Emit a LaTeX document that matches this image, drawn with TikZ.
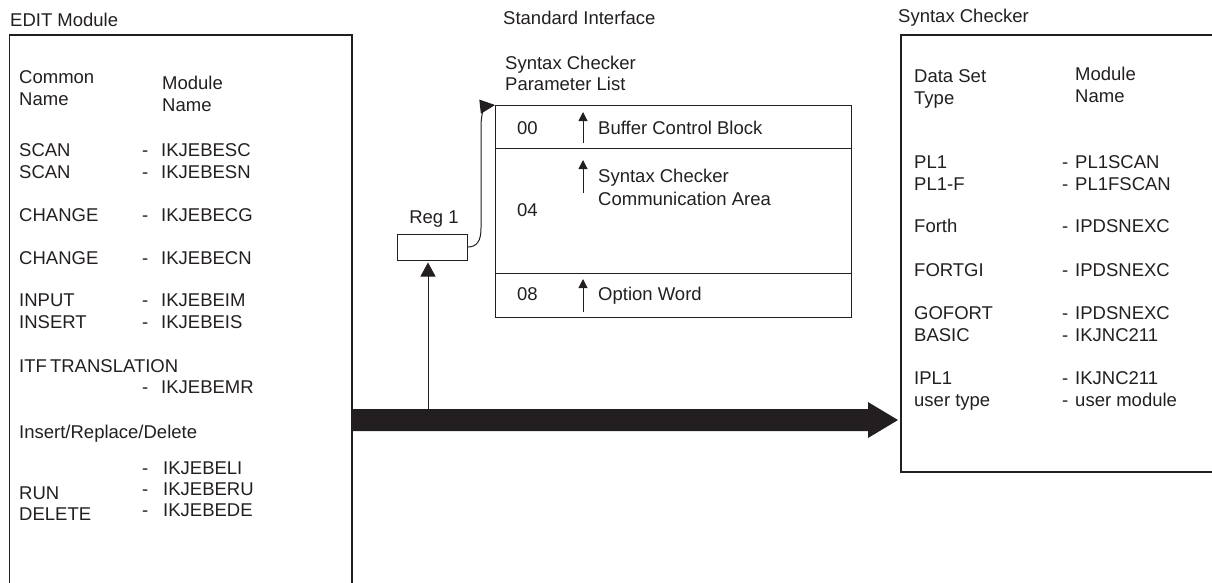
\documentclass[tikz,border=0pt]{standalone}
\usepackage{fontspec}
\setmainfont{Liberation Sans}
\usetikzlibrary{arrows.meta}
\definecolor{ink}{HTML}{231F20}
\begin{document}
\begin{tikzpicture}[x=1pt,y=-1pt,
  txt/.style={anchor=west, inner sep=0pt, text height=13.2pt, text depth=0pt,
              text=ink, font=\fontsize{18.5}{22}\selectfont},
  ctxt/.style={txt, anchor=center},
  frame/.style={draw=ink, line width=1.1pt},
  rule/.style={draw=ink, line width=1pt},
  ptr/.style={draw=ink, line width=1pt, -{Triangle[length=9pt,width=9pt]}},
]
\useasboundingbox (0,0) rectangle (1212,582);

% ---------- EDIT module (frame open at the bottom) ----------
\draw[frame] (9.5,590) -- (9.5,35) -- (352,35) -- (352,590);
\node[txt] (editT) at (10,20) {EDIT Module};
\node[txt] (lh1) at (19,77) {Common};
\node[txt] (lh2) at (19,99) {Name};
\node[txt] (lh3) at (162,83) {Module};
\node[txt] (lh4) at (162,105) {Name};
\foreach \n/\y/\a/\b in {1/150/SCAN/IKJEBESC, 2/172/SCAN/IKJEBESN,
    3/215/CHANGE/IKJEBECG, 4/258/CHANGE/IKJEBECN,
    5/300/INPUT/IKJEBEIM, 6/322/INSERT/IKJEBEIS}{
  \node[txt] (lc\n) at (19,\y) {\a};
  \node[txt] (ld\n) at (142,\y) {-};
  \node[txt] (lm\n) at (161,\y) {\b};
}
\node[txt] (litf) at (19,366) {ITF\hspace{-2pt} TRANSLATION};
\node[txt] (ld7) at (142,387) {-};
\node[txt] (lm7) at (161,387) {IKJEBEMR};
\node[txt] (lird) at (19,432) {Insert/Replace/Delete};
\node[txt] (ld8) at (142,468) {-};
\node[txt] (lm8) at (163,468) {IKJEBELI};
\node[txt] (ld9) at (142,489) {-};
\node[txt] (lm9) at (163,489) {IKJEBERU};
\node[txt] (ld10) at (142,510) {-};
\node[txt] (lm10) at (163,510) {IKJEBEDE};
\node[txt] (lrun) at (19,493) {RUN};
\node[txt] (ldel) at (19,514) {DELETE};

% ---------- standard interface: parameter list ----------
\node[txt] (stdT) at (503,18) {Standard Interface};
\node[txt] (pl1) at (505,63) {Syntax Checker};
\node[txt] (pl2) at (505,84) {Parameter List};
\node[draw=ink, line width=1pt, minimum width=356pt, minimum height=212pt,
      anchor=north west, inner sep=0pt] (plist) at (495,105) {};
\draw[rule] (495,148) -- (851,148);
\draw[rule] (495,273) -- (851,273);
\node[txt] (o00) at (517,128) {00};
\node[txt] (o04) at (517,210) {04};
\node[txt] (o08) at (517,294) {08};
\coordinate (p0a) at (583,143); \coordinate (p0b) at (583,112);
\coordinate (p4a) at (583,193); \coordinate (p4b) at (583,160);
\coordinate (p8a) at (583,312); \coordinate (p8b) at (583,279);
\draw[ptr] (p0a) -- (p0b);
\draw[ptr] (p4a) -- (p4b);
\draw[ptr] (p8a) -- (p8b);
\node[txt] (f00) at (598,128) {Buffer Control Block};
\node[txt] (f04a) at (598,176) {Syntax Checker};
\node[txt] (f04b) at (598,199) {Communication Area};
\node[txt] (f08) at (598,294) {Option Word};

% ---------- register 1 ----------
\node[ctxt] (regT) at (434,217) {Reg 1};
\node[draw=ink, line width=1pt, minimum width=70pt, minimum height=26pt,
      inner sep=0pt] (reg) at (432,247) {};
\draw[ink, line width=1pt, -{Triangle[length=15pt,width=14pt]}]
  (reg.east) .. controls (477,247) and (481,241) .. (481,228)
  -- (481,126) .. controls (481,112) and (486,106) .. (plist.north west);

% ---------- call into the syntax checker ----------
\coordinate (aS) at (352,420);
\coordinate (aE) at (898,420);
\fill[ink] (aS |- 0,409) -- (868,409) -- (868,402) -- (aE)
  -- (868,438) -- (868,431) -- (aS |- 0,431) -- cycle;
\coordinate (vS) at (428,409);
\draw[ink, line width=1pt, shorten >=2pt, -{Triangle[length=14pt,width=15pt]}]
  (vS) -- (vS |- reg.south);

% ---------- syntax checker (frame open at the right) ----------
\draw[frame] (1215,35) -- (901,35) -- (901,472) -- (1215,472);
\node[txt] (scT) at (898,16) {Syntax Checker};
\node[txt] (rh1) at (914,76) {Data Set};
\node[txt] (rh2) at (914,98) {Type};
\node[txt] (rh3) at (1075,74) {Module};
\node[txt] (rh4) at (1075,96) {Name};
\foreach \n/\y/\a/\b in {1/162/PL1/PL1SCAN, 2/184/PL1-F/PL1FSCAN,
    3/226/Forth/IPDSNEXC, 4/270/FORTGI/IPDSNEXC, 5/313/GOFORT/IPDSNEXC,
    6/335/BASIC/IKJNC211, 7/378/IPL1/IKJNC211, 8/400/user type/user module}{
  \node[txt] (rc\n) at (914,\y) {\a};
  \node[txt] (rd\n) at (1062,\y) {-};
  \node[txt] (rm\n) at (1075,\y) {\b};
}
\end{tikzpicture}
\end{document}
